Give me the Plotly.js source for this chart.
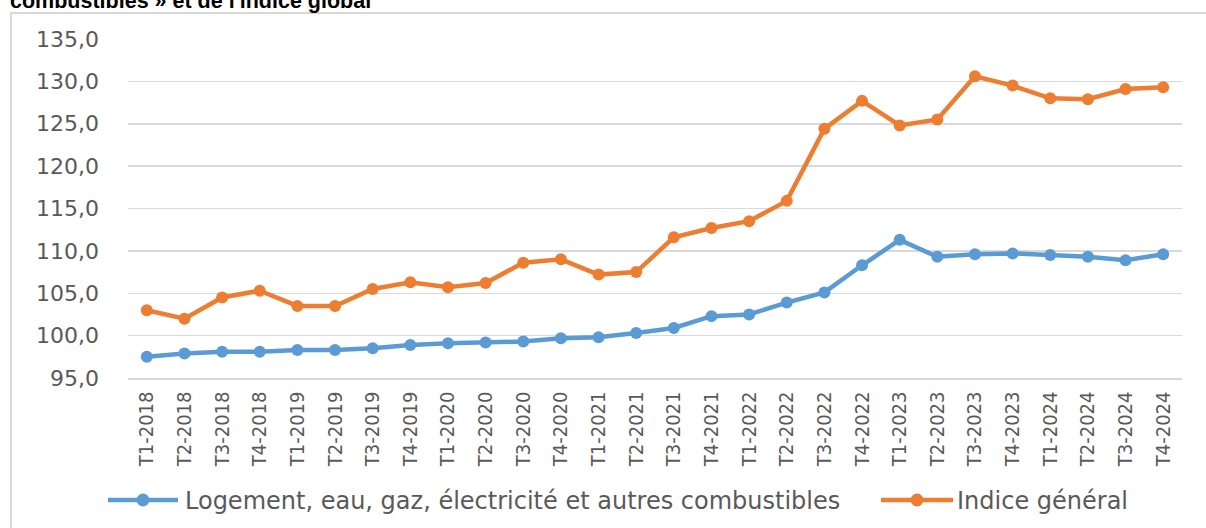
<!DOCTYPE html>
<html>
<head>
<meta charset="utf-8">
<script src="https://cdn.plot.ly/plotly-3.0.1.min.js"></script>
<style>html,body{margin:0;padding:0;background:#fff;}#chart{width:1206px;height:528px;}</style>
</head>
<body>
<div id="chart"></div>
<script>
const categories = ["T1-2018","T2-2018","T3-2018","T4-2018","T1-2019","T2-2019","T3-2019","T4-2019",
  "T1-2020","T2-2020","T3-2020","T4-2020","T1-2021","T2-2021","T3-2021","T4-2021",
  "T1-2022","T2-2022","T3-2022","T4-2022","T1-2023","T2-2023","T3-2023","T4-2023",
  "T1-2024","T2-2024","T3-2024","T4-2024"];
const logement = [97.5, 97.9, 98.1, 98.1, 98.3, 98.3, 98.5, 98.9, 99.1, 99.2, 99.3, 99.7,
  99.8, 100.3, 100.9, 102.3, 102.5, 103.9, 105.1, 108.3, 111.3, 109.3, 109.6, 109.7,
  109.5, 109.3, 108.9, 109.6];
const indiceGeneral = [103.0, 102.0, 104.5, 105.3, 103.5, 103.5, 105.5, 106.3, 105.7, 106.2, 108.6, 109.0,
  107.2, 107.5, 111.6, 112.7, 113.5, 115.9, 124.4, 127.7, 124.8, 125.5, 130.6, 129.5,
  128.0, 127.9, 129.1, 129.3];
const seriesNames = ["Logement, eau, gaz, électricité et autres combustibles", "Indice général"];
const titleText = "combustibles » et de l'indice global";

const BLUE = "#5b9bd5", ORANGE = "#ed7d31", GRID = "#d9d9d9", TXT = "#595959";

// pixel -> paper helpers (plot area: x 128..1182, y 39..378)
const L = 128, R = 1182, T = 39, B = 378;
const px = x => (x - L) / (R - L);
const py = y => (B - y) / (B - T);

const traces = [
  {x: categories, y: logement, name: seriesNames[0], type: "scatter", mode: "lines+markers",
   line: {color: BLUE, width: 4.5}, marker: {color: BLUE, size: 12}},
  {x: categories, y: indiceGeneral, name: seriesNames[1], type: "scatter", mode: "lines+markers",
   line: {color: ORANGE, width: 4.5}, marker: {color: ORANGE, size: 12}}
];

function legendShapes(x0, x1, cx, y, color) {
  return [
    {type: "line", xref: "paper", yref: "paper", x0: px(x0), x1: px(x1), y0: py(y), y1: py(y),
     line: {color: color, width: 4.5}},
    {type: "circle", xref: "paper", yref: "paper", x0: px(cx - 6.5), x1: px(cx + 6.5),
     y0: py(y + 6.5), y1: py(y - 6.5), fillcolor: color, line: {color: color, width: 0}}
  ];
}

const layout = {
  width: 1206, height: 528,
  margin: {l: L, r: 1206 - R, t: T, b: 528 - B, pad: 0},
  paper_bgcolor: "#fff", plot_bgcolor: "#fff",
  separators: ", ",
  showlegend: false,
  xaxis: {
    type: "category", range: [-0.5, 27.5], showgrid: false, zeroline: false,
    showline: true, linecolor: GRID, linewidth: 1.5,
    tickangle: -90, ticks: "", ticklabelstandoff: 4,
    tickfont: {family: "'Liberation Sans Narrow', 'DejaVu Sans Condensed', sans-serif", size: 20, color: TXT}
  },
  yaxis: {
    range: [95, 135], dtick: 5, tick0: 95, tickformat: ".1f",
    showgrid: true, gridcolor: GRID, gridwidth: 1.5, zeroline: false, showline: false,
    ticks: "", ticklabelstandoff: 28,
    tickfont: {family: "'DejaVu Sans', sans-serif", size: 22, color: TXT}
  },
  shapes: [
    {type: "rect", xref: "paper", yref: "paper", x0: px(11), x1: px(1230), y0: py(560), y1: py(13),
     line: {color: GRID, width: 2}, fillcolor: "rgba(0,0,0,0)", layer: "below"},
    ...legendShapes(108, 178, 143, 500, BLUE),
    ...legendShapes(881, 953, 917, 500, ORANGE)
  ],
  annotations: [
    {text: "<b>" + titleText + "</b>", xref: "paper", yref: "paper", x: px(9), y: py(14),
     xanchor: "left", yanchor: "bottom", showarrow: false, borderpad: 0,
     font: {family: "'Liberation Sans', Arial, sans-serif", size: 21.5, color: "#000"}},
    {text: seriesNames[0], xref: "paper", yref: "paper", x: px(183), y: py(501),
     xanchor: "left", yanchor: "middle", showarrow: false,
     font: {family: "'DejaVu Sans', sans-serif", size: 24, color: TXT}},
    {text: seriesNames[1], xref: "paper", yref: "paper", x: px(955), y: py(501),
     xanchor: "left", yanchor: "middle", showarrow: false,
     font: {family: "'DejaVu Sans', sans-serif", size: 24, color: TXT}}
  ]
};

Plotly.newPlot("chart", traces, layout, {displayModeBar: false, staticPlot: true});
</script>
</body>
</html>
